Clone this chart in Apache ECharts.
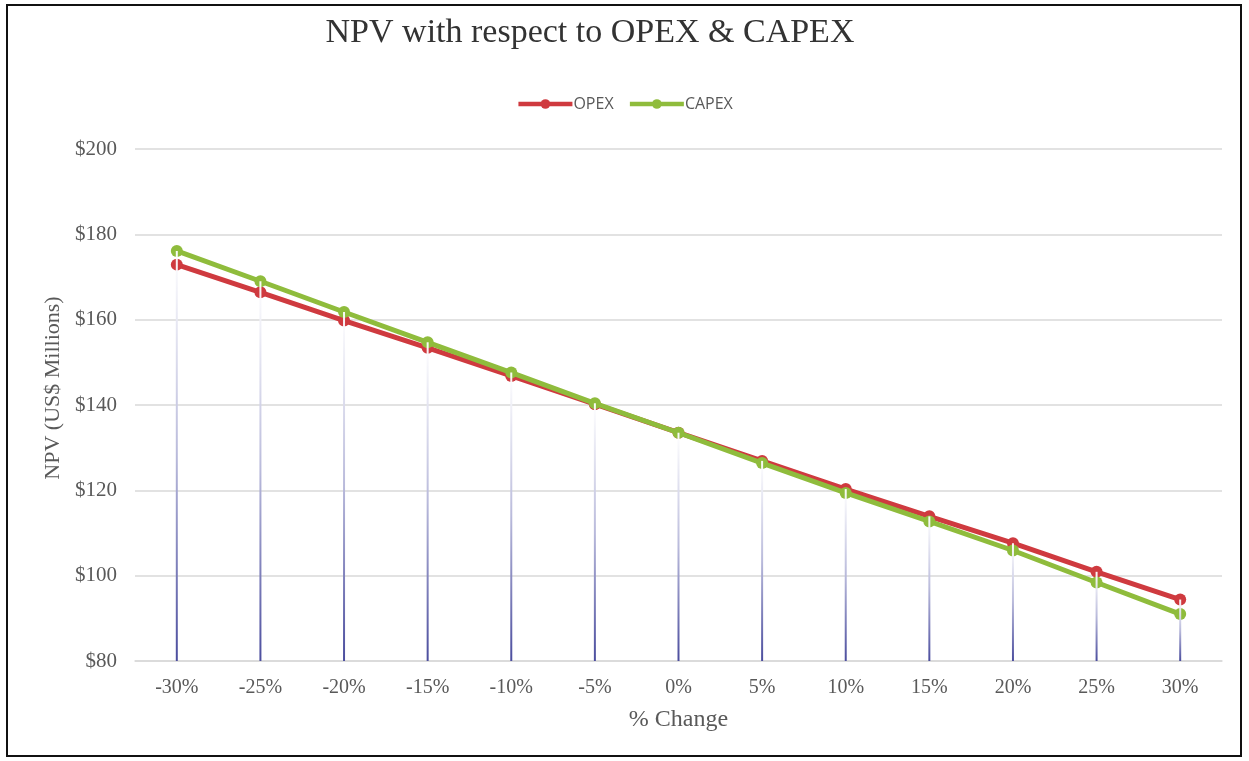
<!DOCTYPE html>
<html>
<head>
<meta charset="utf-8">
<script src="https://cdn.jsdelivr.net/npm/echarts@6/dist/echarts.min.js"></script>
<style>
  html, body { margin: 0; padding: 0; background: #fff; }
  #chart { width: 1249px; height: 761px; }
</style>
</head>
<body>
<div id="chart"></div>
<script>
const categories = ['-30%', '-25%', '-20%', '-15%', '-10%', '-5%', '0%', '5%', '10%', '15%', '20%', '25%', '30%']
const opex = [172.9, 166.4, 159.8, 153.4, 146.8, 140.2, 133.5, 126.9, 120.3, 113.9, 107.6, 100.9, 94.4]
const capex = [176.1, 169.0, 161.8, 154.7, 147.6, 140.4, 133.5, 126.4, 119.4, 112.7, 105.9, 98.4, 91.0]
// drop lines go from the higher of the two points down to the axis
const dropLine = opex.map((v, i) => Math.max(v, capex[i]))

const serif = '"Liberation Serif", "DejaVu Serif", serif'
const labelColor = '#595959'

const chart = echarts.init(document.getElementById('chart'))
const option = {
  backgroundColor: '#fff',
  animation: false,
  title: {
    text: 'NPV with respect to OPEX & CAPEX',
    left: 585,
    top: 11,
    textAlign: 'center',
    textStyle: { fontFamily: serif, fontSize: 34, fontWeight: 'normal', color: '#333' }
  },
  legend: {
    data: ['OPEX', 'CAPEX'],
    left: 'center',
    top: 91,
    itemWidth: 54,
    itemHeight: 12,
    itemGap: 14,
    lineStyle: { width: 4.5 },
    textStyle: { fontFamily: '"Open Sans", "Liberation Sans", sans-serif', fontSize: 16, color: labelColor, padding: [0, 0, 0, -4] }
  },
  grid: { left: 135, right: 27, top: 149, bottom: 100 },
  xAxis: {
    type: 'category',
    data: categories,
    name: '% Change',
    nameLocation: 'middle',
    nameGap: 47,
    nameTextStyle: { fontFamily: serif, fontSize: 24, color: labelColor },
    axisLine: { lineStyle: { color: '#d9d9d9', width: 1.5 } },
    axisTick: { show: false },
    axisLabel: { fontFamily: serif, fontSize: 20, color: labelColor, margin: 17 }
  },
  yAxis: {
    type: 'value',
    min: 80,
    max: 200,
    interval: 20,
    name: 'NPV (US$ Millions)',
    nameLocation: 'middle',
    nameGap: 68,
    nameTextStyle: { fontFamily: serif, fontSize: 22, color: labelColor, padding: [0, 0, 0, 34] },
    axisLine: { show: false },
    axisTick: { show: false },
    axisLabel: { fontFamily: serif, fontSize: 21, color: labelColor, margin: 18, formatter: v => '$' + v },
    splitLine: { lineStyle: { color: '#d9d9d9', width: 1.5 } }
  },
  series: [
    {
      name: 'OPEX',
      type: 'line',
      data: opex,
      symbol: 'circle',
      symbolSize: 12,
      z: 3,
      lineStyle: { color: '#cf3a3f', width: 5 },
      itemStyle: { color: '#cf3a3f' }
    },
    {
      name: 'CAPEX',
      type: 'line',
      data: capex,
      symbol: 'circle',
      symbolSize: 12,
      z: 4,
      lineStyle: { color: '#8fbc3c', width: 5 },
      itemStyle: { color: '#8fbc3c' }
    },
    {
      name: 'drop',
      type: 'bar',
      data: dropLine,
      barWidth: 2,
      z: 5,
      silent: true,
      itemStyle: {
        color: new echarts.graphic.LinearGradient(0, 0, 0, 1, [
          { offset: 0, color: 'rgba(255,255,255,0.95)' },
          { offset: 0.5, color: '#b9badb' },
          { offset: 1, color: '#4b4d9e' }
        ])
      }
    }
  ],
  graphic: [
    {
      type: 'rect',
      shape: { x: 7, y: 5, width: 1234, height: 751 },
      style: { fill: null, stroke: '#111', lineWidth: 2 },
      silent: true
    }
  ]
}
chart.setOption(option)
</script>
</body>
</html>
